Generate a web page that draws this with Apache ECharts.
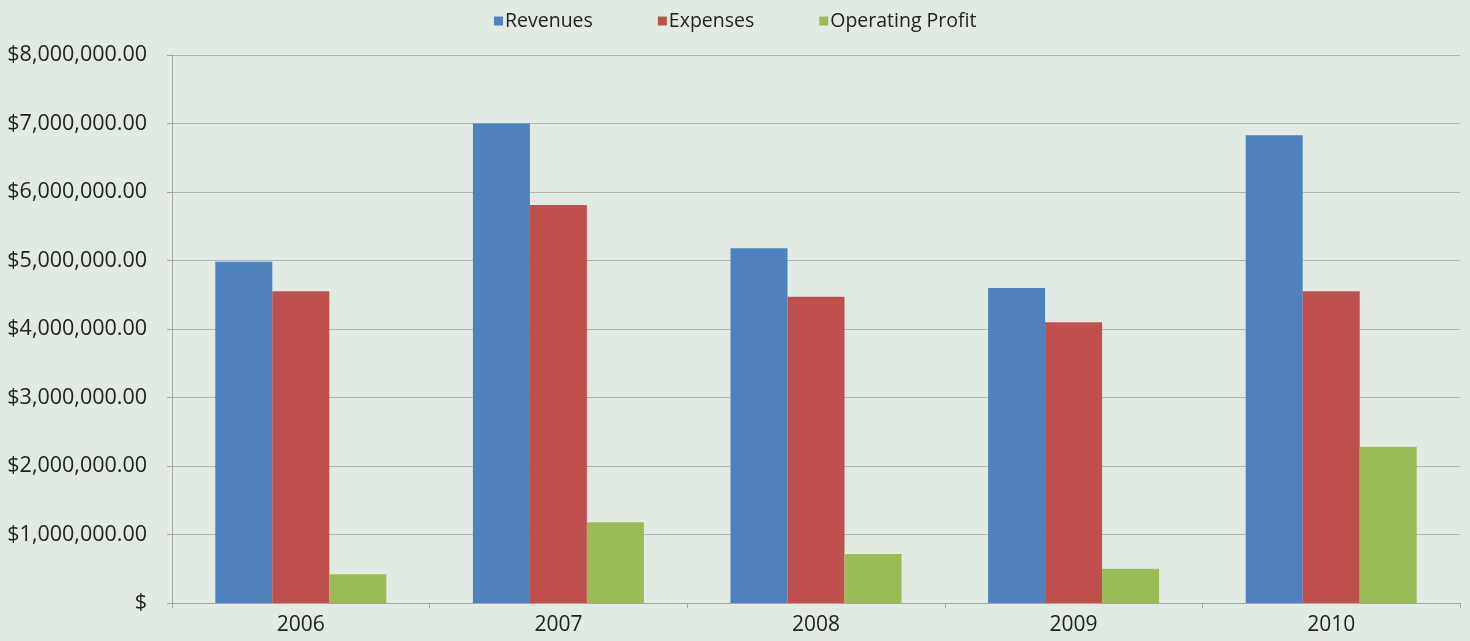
<!DOCTYPE html>
<html>
<head>
<meta charset="utf-8">
<script src="https://cdn.jsdelivr.net/npm/echarts@6/dist/echarts.min.js"></script>
<style>
	html, body { margin: 0; padding: 0; background: #e2ebe3; }
	#chart { width: 1470px; height: 641px; }
</style>
</head>
<body>
<div id="chart"></div>
<script>
var years = ['2006', '2007', '2008', '2009', '2010'];
var revenues = [4980000, 7000000, 5180000, 4600000, 6830000];
var expenses = [4550000, 5810000, 4470000, 4100000, 4550000];
var operatingProfit = [420000, 1180000, 715000, 500000, 2280000];
var seriesNames = ['Revenues', 'Expenses', 'Operating Profit'];
var colors = ['#4f81bd', '#c0504d', '#9bbb59'];

var fontFamily = '"Open Sans", "Noto Sans", sans-serif';

function money(v) {
	if (v === 0) return '$';
	return '$' + v.toLocaleString('en-US', { minimumFractionDigits: 2, maximumFractionDigits: 2 });
}

var chart = echarts.init(document.getElementById('chart'));
chart.setOption({
	backgroundColor: '#e2ebe3',
	color: colors,
	textStyle: { fontFamily: fontFamily },
	legend: {
		top: 6,
		left: 489,
		itemWidth: 9,
		itemHeight: 9,
		itemGap: 65,
		icon: 'rect',
		textStyle: { fontSize: 19.5, color: '#222', padding: [0, 0, 0, -3] },
		data: seriesNames
	},
	grid: { left: 172, right: 10, top: 55, bottom: 38 },
	xAxis: {
		type: 'category',
		data: years,
		axisLine: { lineStyle: { color: '#a6a6a6' } },
		axisTick: { show: true, length: 5, lineStyle: { color: '#a6a6a6' } },
		axisLabel: { fontSize: 21, color: '#222', margin: 12 }
	},
	yAxis: {
		type: 'value',
		min: 0,
		max: 8000000,
		interval: 1000000,
		axisLine: { show: true, lineStyle: { color: '#a6a6a6' } },
		axisTick: { show: true, length: 5, lineStyle: { color: '#a6a6a6' } },
		splitLine: { lineStyle: { color: '#b4b4b4' } },
		axisLabel: { fontSize: 21.5, color: '#222', margin: 25, formatter: money }
	},
	series: [
		{ name: seriesNames[0], type: 'bar', data: revenues, barWidth: 57, barGap: '0%' },
		{ name: seriesNames[1], type: 'bar', data: expenses, barWidth: 57, barGap: '0%' },
		{ name: seriesNames[2], type: 'bar', data: operatingProfit, barWidth: 57, barGap: '0%' }
	]
});
</script>
</body>
</html>
